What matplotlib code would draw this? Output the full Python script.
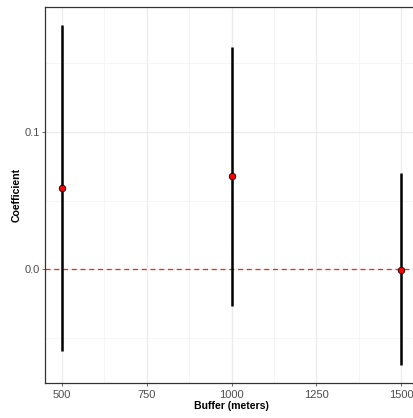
import matplotlib.pyplot as plt
import numpy as np

buffer_m = [500, 1000, 1500]
coef = [0.0589, 0.0676, -0.0005]
lower = [-0.0594, -0.0265, -0.0698]
upper = [0.178, 0.1616, 0.0698]

plt.rcParams['font.family'] = ['Liberation Sans', 'DejaVu Sans']

W, H = 413, 418
fig = plt.figure(figsize=(W / 100, H / 100), dpi=100)
ax = fig.add_axes([45 / W, (H - 383) / H, (413 - 45) / W, (383 - 7) / H])

ax.set_xlim(450, 1535)
ax.set_ylim(-0.0828, 0.191)

# grid like theme_bw
for v in [625, 875, 1125, 1375]:
    ax.axvline(v, color='#f2f2f2', lw=0.5, zorder=0)
for v in [500, 750, 1000, 1250, 1500]:
    ax.axvline(v, color='#ebebeb', lw=0.9, zorder=0)
for v in [-0.05, 0.05, 0.15]:
    ax.axhline(v, color='#f2f2f2', lw=0.5, zorder=0)
for v in [0.0, 0.1]:
    ax.axhline(v, color='#ebebeb', lw=0.9, zorder=0)

ax.axhline(0, color='#ff2020', lw=0.9, ls=(0, (4, 3)), zorder=1)

ax.vlines(buffer_m, lower, upper, color='black', lw=1.8, zorder=2)
ax.scatter(buffer_m, coef, s=22, color='red', edgecolor='black', linewidth=0.6, zorder=3)

ax.set_xticks([500, 750, 1000, 1250, 1500])
ax.set_yticks([0.0, 0.1])
ax.set_yticklabels(['0.0', '0.1'])
ax.tick_params(colors='#4d4d4d', labelcolor='#4d4d4d', labelsize=8, length=2.5, width=0.6)
ax.tick_params(axis='y', pad=1)
ax.tick_params(axis='x', pad=2.5)

for s in ['top', 'left', 'bottom']:
    ax.spines[s].set_color('#333333')
    ax.spines[s].set_linewidth(0.9)
ax.spines['right'].set_visible(False)

ax.set_xlabel('Buffer (meters)', fontsize=7.6, fontweight='bold')
ax.set_ylabel('Coefficient', fontsize=7.6, fontweight='bold', labelpad=2)
ax.xaxis.set_label_coords((231 - 45) / (413 - 45), -0.047)

fig.savefig('out.png', dpi=100)
